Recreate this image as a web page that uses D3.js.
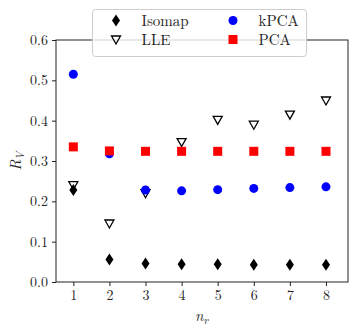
<!DOCTYPE html>
<html>
<head>
<meta charset="utf-8">
<script src="https://cdn.jsdelivr.net/npm/d3@7"></script>
<style>
  body { margin: 0; background: #fff; }
  svg text { font-family: "Latin Modern Roman", "Liberation Serif", serif; }
</style>
</head>
<body>
<svg id="chart"></svg>
<script>
// data
const nr = [1, 2, 3, 4, 5, 6, 7, 8];
const isomap = [0.228, 0.056, 0.046, 0.044, 0.044, 0.043, 0.043, 0.043];
const lle = [0.24, 0.145, 0.22, 0.347, 0.402, 0.39, 0.415, 0.45];
const kpca = [0.515, 0.318, 0.228, 0.226, 0.229, 0.232, 0.234, 0.236];
const pca = [0.335, 0.325, 0.324, 0.324, 0.324, 0.324, 0.324, 0.324];
const yTicks = [0.0, 0.1, 0.2, 0.3, 0.4, 0.5, 0.6];

const width = 357;
const height = 332;
const margin = { top: 40, right: 9, bottom: 50, left: 56 };
const font = '"Latin Modern Roman", "Liberation Serif", serif';

const svg = d3.select("#chart").attr("width", width).attr("height", height);

const x = d3.scaleLinear()
  .domain([0.52, 8.61])
  .range([margin.left, width - margin.right]);

const y = d3.scaleLinear()
  .domain([0, 0.6])
  .range([height - margin.bottom, margin.top]);

// axes
const xAxis = svg.append("g")
  .attr("transform", `translate(0,${height - margin.bottom})`)
  .call(d3.axisBottom(x).tickValues(nr).tickFormat(d3.format("d")).tickSize(4).tickPadding(4));

const yAxis = svg.append("g")
  .attr("transform", `translate(${margin.left},0)`)
  .call(d3.axisLeft(y).tickValues(yTicks).tickFormat(d3.format(".1f")).tickSize(4).tickPadding(4));

[xAxis, yAxis].forEach(g => {
  g.attr("font-family", null);
  g.select(".domain").remove();
  g.selectAll("text").style("font-family", font).style("font-size", "14px").attr("fill", "#222");
  g.selectAll("line").attr("stroke", "#222");
});

// frame
svg.append("rect")
  .attr("x", margin.left)
  .attr("y", margin.top)
  .attr("width", width - margin.left - margin.right)
  .attr("height", height - margin.top - margin.bottom)
  .attr("fill", "none")
  .attr("stroke", "#222")
  .attr("stroke-width", 1);

// markers
const diamond = (cx, cy) => `M${cx},${cy - 6}L${cx + 4},${cy}L${cx},${cy + 6}L${cx - 4},${cy}Z`;
const triDown = (cx, cy) => `M${cx - 4.5},${cy - 3.5}L${cx + 4.5},${cy - 3.5}L${cx},${cy + 4.5}Z`;

const plot = svg.append("g");

plot.selectAll(".iso").data(nr).join("path")
  .attr("d", (d, i) => diamond(x(d), y(isomap[i])))
  .attr("fill", "black");

plot.selectAll(".lle").data(nr).join("path")
  .attr("d", (d, i) => triDown(x(d), y(lle[i])))
  .attr("fill", "none").attr("stroke", "black").attr("stroke-width", 1.3);

plot.selectAll(".kpca").data(nr).join("circle")
  .attr("cx", d => x(d))
  .attr("cy", (d, i) => y(kpca[i]))
  .attr("r", 4.5)
  .attr("fill", "blue");

plot.selectAll(".pca").data(nr).join("rect")
  .attr("x", d => x(d) - 4.5)
  .attr("y", (d, i) => y(pca[i]) - 4.5)
  .attr("width", 9).attr("height", 9)
  .attr("fill", "red");

// legend
const legend = svg.append("g");
legend.append("rect")
  .attr("x", 92.5).attr("y", 9.5)
  .attr("width", 214).attr("height", 47)
  .attr("rx", 3)
  .attr("fill", "white").attr("fill-opacity", 0.8)
  .attr("stroke", "#ccc");

const items = [
  { name: "Isomap", col: 0, row: 0 },
  { name: "LLE", col: 0, row: 1 },
  { name: "kPCA", col: 1, row: 0 },
  { name: "PCA", col: 1, row: 1 }
];
const colX = [116, 233];
const rowY = [20.5, 39.5];
items.forEach(it => {
  const cx = colX[it.col], cy = rowY[it.row];
  if (it.name === "Isomap") legend.append("path").attr("d", diamond(cx, cy)).attr("fill", "black");
  if (it.name === "LLE") legend.append("path").attr("d", triDown(cx, cy)).attr("fill", "none").attr("stroke", "black").attr("stroke-width", 1.3);
  if (it.name === "kPCA") legend.append("circle").attr("cx", cx).attr("cy", cy).attr("r", 4.5).attr("fill", "blue");
  if (it.name === "PCA") legend.append("rect").attr("x", cx - 4.5).attr("y", cy - 4.5).attr("width", 9).attr("height", 9).attr("fill", "red");
  legend.append("text")
    .attr("x", cx + 25.5).attr("y", cy + 5)
    .style("font-family", font).style("font-size", "15px").attr("fill", "#222")
    .text(it.name);
});

// axis labels
svg.append("text")
  .attr("x", x(4.5) + 2).attr("y", 321)
  .attr("text-anchor", "middle")
  .style("font-family", font).style("font-size", "15px").style("font-style", "italic").attr("fill", "#222")
  .html('n<tspan dy="3" font-size="11">r</tspan>');

svg.append("text")
  .attr("transform", `translate(21,${y(0.3)}) rotate(-90)`)
  .attr("text-anchor", "middle")
  .style("font-family", font).style("font-size", "15px").style("font-style", "italic").attr("fill", "#222")
  .html('R<tspan dy="3" font-size="11">V</tspan>');
</script>
</body>
</html>
